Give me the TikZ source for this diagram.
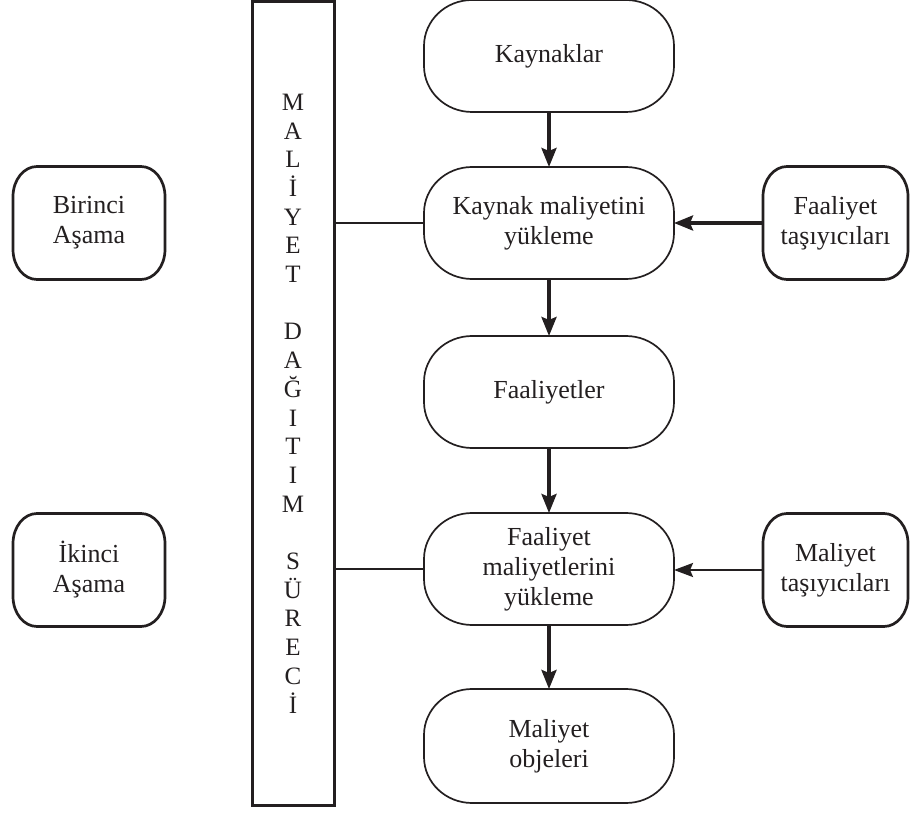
\documentclass[tikz,border=0pt]{standalone}
\usepackage{fontspec}
\setmainfont{Liberation Serif}
\usetikzlibrary{arrows.meta}
\definecolor{ink}{HTML}{231F20}
% pill outline with elliptical corners around a named node
\newcommand\pillpath[3]{%
  ([xshift=#2]#1.north west) -- ([xshift=-#2]#1.north east)
  arc[start angle=90,end angle=0,x radius=#2,y radius=#3]
  -- ([yshift=#3]#1.south east)
  arc[start angle=0,end angle=-90,x radius=#2,y radius=#3]
  -- ([xshift=#2]#1.south west)
  arc[start angle=270,end angle=180,x radius=#2,y radius=#3]
  -- ([yshift=-#3]#1.north west)
  arc[start angle=180,end angle=90,x radius=#2,y radius=#3] -- cycle}
\begin{document}
\begin{tikzpicture}[x=1pt,y=1pt,
  every node/.style={font=\fontsize{26}{30}\selectfont, text=ink},
  mainbox/.style={minimum width=250pt, minimum height=112pt, inner sep=0pt, outer sep=0pt, align=center},
  sidebox/.style={minimum height=113pt, inner sep=0pt, outer sep=0pt, align=center},
  mainline/.style={draw=ink, line width=1.7pt, line join=round},
  sideline/.style={draw=ink, line width=2.7pt, line join=round},
  flow/.style={draw=ink, line width=3.6pt, -{Stealth[length=19pt,width=15pt,inset=3pt]}},
  thinflow/.style={draw=ink, line width=2.4pt, -{Stealth[length=19pt,width=14pt,inset=3pt]}},
  link/.style={draw=ink, line width=2pt}]
\useasboundingbox (0,0) rectangle (910,812);

% central column
\node[mainbox] (kay) at (549,756) {Kaynaklar};
\node[mainbox] (kmy) at (549,589) {Kaynak maliyetini\\yükleme};
\node[mainbox] (faal) at (549,420) {Faaliyetler};
\node[mainbox] (fmy) at (549,243) {Faaliyet\\maliyetlerini\\yükleme};
\node[mainbox, minimum height=114pt] (mo) at (549,66) {Maliyet\\objeleri};
\foreach \n in {kay,kmy,faal,fmy,mo} \draw[mainline] \pillpath{\n}{48pt}{46pt};

% left stage boxes
\node[sidebox, minimum width=152pt] (bir) at (89,589) {Birinci\\Aşama};
\node[sidebox, minimum width=152pt] (iki) at (89,242) {İkinci\\Aşama};

% right driver boxes
\node[sidebox, minimum width=145pt] (ft) at (835.5,589) {Faaliyet\\taşıyıcıları};
\node[sidebox, minimum width=145pt] (mt) at (835.5,242) {Maliyet\\taşıyıcıları};
\foreach \n in {bir,iki,ft,mt} \draw[sideline] \pillpath{\n}{24pt}{30pt};

% vertical bar
\node[draw=ink, line width=3pt, minimum width=82pt, minimum height=804pt, inner sep=0pt, outer sep=0pt, align=center,
      font=\fontsize{25}{28.7}\selectfont] (bar) at (293,408.5)
  {M\\A\\L\\İ\\Y\\E\\T\\[28.7pt]D\\A\\Ğ\\I\\T\\I\\M\\[28.7pt]S\\Ü\\R\\E\\C\\İ};

% connectors
\draw[flow] (kay) -- (kmy);
\draw[flow] (kmy) -- (faal);
\draw[flow] (faal) -- (fmy);
\draw[flow] (fmy) -- (mo);
\draw[flow] (ft.west) -- (ft.west -| kmy.east);
\draw[thinflow] (mt.west) -- (mt.west -| fmy.east);
\draw[link] (bar.east |- kmy.west) -- (kmy.west);
\draw[link] (bar.east |- fmy.west) -- (fmy.west);
\end{tikzpicture}
\end{document}
